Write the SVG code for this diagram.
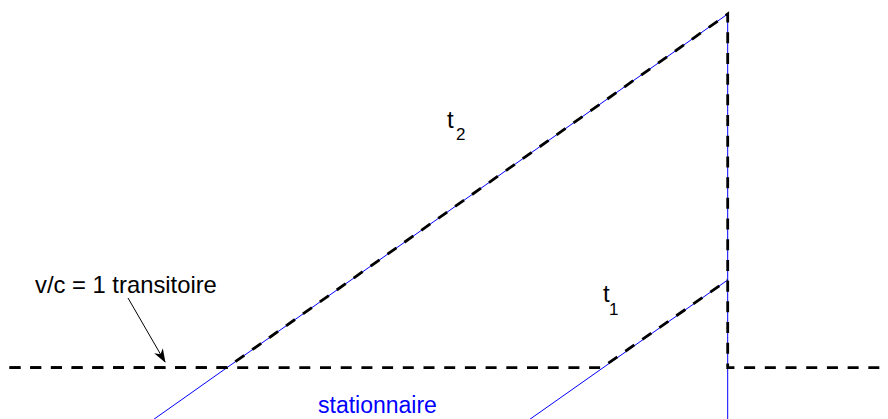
<svg xmlns="http://www.w3.org/2000/svg" width="888" height="419" viewBox="0 0 888 419">
<style>
.blue{stroke:#0000ff;stroke-width:1;fill:none}
.dash{stroke:#000;stroke-width:2.8;fill:none;stroke-dasharray:11 9.7}
.lbl{font-family:"Liberation Sans",Arial,sans-serif;fill:#000}
</style>
<defs>
<marker id="arr" viewBox="0 0 14 10" refX="13" refY="5" markerWidth="14" markerHeight="10" markerUnits="userSpaceOnUse" orient="auto">
<path d="M0,0 L14,5 L0,10 L4,5 z" fill="#000"/>
</marker>
</defs>
<rect width="888" height="419" fill="#fff"/>
<g id="blue-lines">
<line class="blue" x1="150" y1="422" x2="727.7" y2="14"/>
<line class="blue" x1="526" y1="422" x2="727.7" y2="280"/>
<line class="blue" x1="727.7" y1="14" x2="727.7" y2="419"/>
</g>
<g id="connectors">
<path class="dash" d="M9.5,367.7 L226.7,367.7 L727.7,14 L727.7,367.7 L888,367.7"/>
<path class="dash" d="M9.5,367.7 L601.7,367.7 L727.7,280"/>
<line x1="128" y1="298" x2="165" y2="362" stroke="#000" stroke-width="1" marker-end="url(#arr)"/>
</g>
<g id="label-transitoire">
<text class="lbl" x="35" y="293" font-size="23.8">v/c = 1 transitoire</text>
</g>
<g id="label-t2">
<text class="lbl" x="447" y="128" font-size="24">t</text>
<text class="lbl" x="456" y="140" font-size="17">2</text>
</g>
<g id="label-t1">
<text class="lbl" x="603" y="302" font-size="24">t</text>
<text class="lbl" x="609" y="315" font-size="17">1</text>
</g>
<g id="label-stationnaire">
<text class="lbl" x="318" y="412.5" font-size="23" style="fill:#0000ff">stationnaire</text>
</g>
</svg>
